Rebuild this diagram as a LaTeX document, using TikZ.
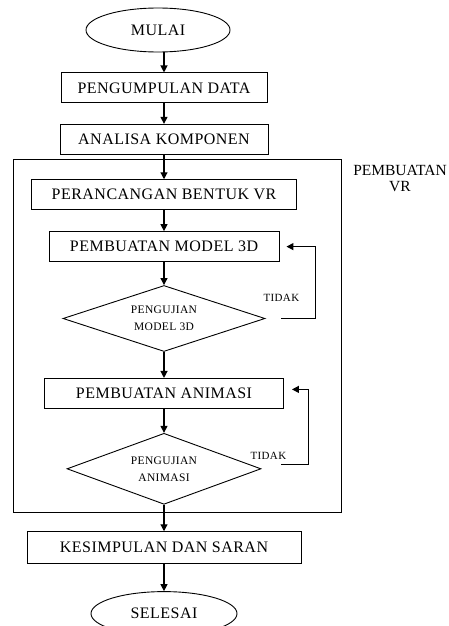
\documentclass[tikz,border=0pt]{standalone}
\usepackage{fontspec}
\setmainfont{Liberation Serif}
\newfontfamily\spasi[LetterSpace=3]{Liberation Serif}
\usetikzlibrary{positioning,shapes.geometric,arrows.meta}
\newcommand{\garis}{black}
\newcommand{\isi}{white}

\begin{document}
\begin{tikzpicture}[x=1pt,y=1pt]
        \tikzset{kotak/.style = {draw=\garis, fill=\isi, line width=0.9pt, minimum height=30pt, inner sep=0pt, font=\spasi\fontsize{16}{18}\selectfont}}
        \tikzset{mulaiselesai/.style = {kotak, ellipse, minimum height=44pt}}
        \tikzset{uji/.style = {kotak, diamond, aspect=3, align=center, font=\spasi\fontsize{11.5}{17}\selectfont}}
        \tikzset{panah/.style = {draw=\garis, line width=1.2pt, -{Triangle[width=7pt,length=7pt]}}}
        \tikzset{ket/.style = {inner sep=0pt, font=\spasi\fontsize{11}{12}\selectfont}}
        %\draw[help lines] (0,0) grid (449,-626);
        \useasboundingbox (0,0) rectangle (449,-626);
        \draw[\garis, line width=0.9pt] (13,-159) rectangle (341,-512);
        \node[mulaiselesai, minimum width=144pt] (mulai) at (158,-30) {MULAI};
        \node[kotak, minimum width=206pt, below=20pt of mulai, xshift=6pt] (data) {PENGUMPULAN DATA};
        \node[kotak, minimum width=208pt, below=20.5pt of data] (analisa) {ANALISA KOMPONEN};
        \node[kotak, minimum width=265pt, below=24.5pt of analisa] (rancang) {PERANCANGAN BENTUK VR};
        \node[kotak, minimum width=230pt, below=21pt of rancang] (model) {PEMBUATAN MODEL 3D};
        \node[uji, minimum width=202pt, minimum height=66pt, below=23pt of model] (ujimodel) {PENGUJIAN\\MODEL 3D};
        \node[kotak, minimum width=239pt, below=26pt of ujimodel] (animasi) {PEMBUATAN ANIMASI};
        \node[uji, minimum width=194pt, minimum height=71pt, below=24pt of animasi] (ujianimasi) {PENGUJIAN\\ANIMASI};
        \node[kotak, minimum width=274pt, minimum height=32pt, below=26.5pt of ujianimasi] (simpul) {KESIMPULAN DAN SARAN};
        \node[mulaiselesai, minimum width=146pt, below=27pt of simpul] (selesai) {SELESAI};
        \node[align=center, font=\fontsize{15.5}{16}\selectfont] (vr) at (400,-178) {PEMBUATAN\\VR};
        \node[ket] (tidakmodel) at ([xshift=16pt,yshift=21pt]ujimodel.east) {TIDAK};
        \node[ket] (tidakanimasi) at ([xshift=7pt,yshift=13pt]ujianimasi.east) {TIDAK};
        \draw[panah] (mulai.south -| data.north) -- (data);
        \foreach \a/\b in {data/analisa, analisa/rancang, rancang/model, model/ujimodel, ujimodel/animasi, animasi/ujianimasi, ujianimasi/simpul, simpul/selesai}
            \draw[panah] (\a) -- (\b);
        \draw[panah] ([xshift=16pt]ujimodel.east) -- ++(34,0) |- ([xshift=7pt]model.east);
        \draw[panah] ([xshift=20pt,yshift=4pt]ujianimasi.east) -- ++(27,0) |- ([xshift=8pt,yshift=4pt]animasi.east);
    \end{tikzpicture}
\end{document}
